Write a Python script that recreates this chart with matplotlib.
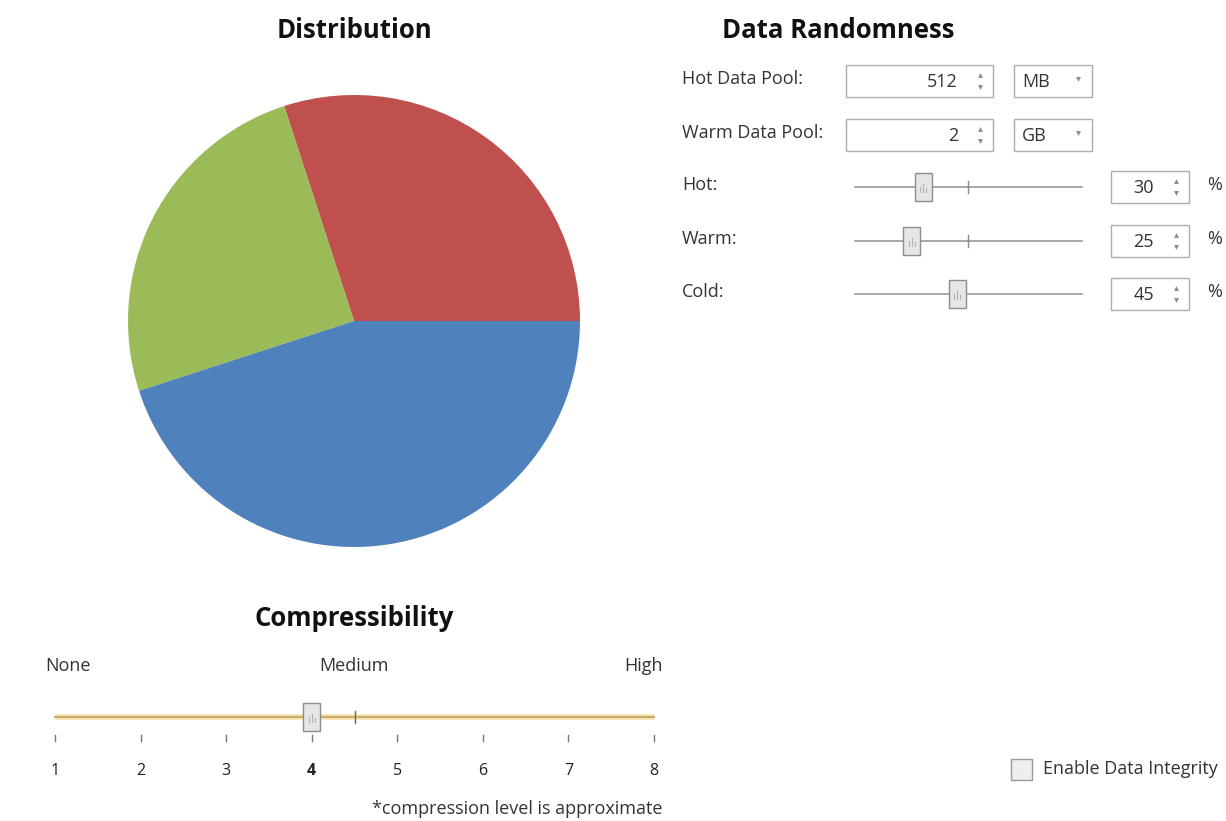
import matplotlib.pyplot as plt
from matplotlib.patches import Rectangle

plt.rcParams['font.family'] = ['Open Sans', 'DejaVu Sans']

# data
categories = ['Hot', 'Warm', 'Cold']
shares = [30, 25, 45]
pie_colors = ['#C0504D', '#9BBB59', '#4F81BD']

pool_labels = ['Hot Data Pool:', 'Warm Data Pool:']
pool_values = ['512', '2']
pool_units = ['MB', 'GB']

compress_levels = [1, 2, 3, 4, 5, 6, 7, 8]
compress_value = 4
compress_names = ['None', 'Medium', 'High']

W, H = 1226, 821
fig = plt.figure(figsize=(W / 100, H / 100), dpi=100)
fig.patch.set_facecolor('white')

# pie chart, centre (354,321) radius 226 px
cx, cy, r = 354, 321, 226
pax = fig.add_axes([(cx - r) / W, (H - cy - r) / H, 2 * r / W, 2 * r / H])
pax.pie(shares, colors=pie_colors, startangle=0, counterclock=True,
        wedgeprops=dict(linewidth=0))
pax.set_xlim(-1, 1)
pax.set_ylim(-1, 1)
pax.set_aspect('equal')
pax.axis('off')

# overlay in pixel coordinates for the rest of the panel
ui = fig.add_axes([0, 0, 1, 1], zorder=-1)
ui.set_xlim(0, W)
ui.set_ylim(H, 0)
ui.axis('off')

txt = '#333333'
edge = '#ABADB3'
fs = 13

def title(x, y, s):
    ui.text(x, y, s, ha='center', va='center', fontsize=18.5, fontweight='bold', color='#111111')

title(354, 30, 'Distribution')
title(838, 30, 'Data Randomness')
title(354, 619, 'Compressibility')

def spin_arrows(x, y):
    ui.plot(x, y - 6, marker='^', ms=3.5, color='#8A8A8A', mec='none')
    ui.plot(x, y + 6, marker='v', ms=3.5, color='#8A8A8A', mec='none')

def combo(x0, x1, y, s):
    ui.add_patch(Rectangle((x0, y - 16), x1 - x0, 32, fc='white', ec=edge, lw=1))
    ui.text(x0 + 8, y + 1, s, ha='left', va='center', fontsize=fs, color=txt)
    ui.plot(x1 - 14, y - 2, marker='v', ms=3.5, color='#8A8A8A', mec='none')

def spinbox(x0, x1, y, s):
    ui.add_patch(Rectangle((x0, y - 16), x1 - x0, 32, fc='white', ec=edge, lw=1))
    ui.text(x1 - 35, y + 1, s, ha='right', va='center', fontsize=fs, color=txt)
    spin_arrows(x1 - 13, y)

# pool rows
pool_y = [81, 135]
for lab, val, unit, y in zip(pool_labels, pool_values, pool_units, pool_y):
    ui.text(682, y - 2, lab, ha='left', va='center', fontsize=fs, color=txt)
    spinbox(846, 993, y, val)
    combo(1014, 1092, y, unit)

def thumb(x, y):
    ui.add_patch(Rectangle((x - 8.5, y - 14), 17, 28, fc='#E6E6E6', ec='#8C8C8C', lw=1, zorder=5))
    for dx, h in zip([-3, 0, 3], [5, 8, 4]):
        ui.plot([x + dx, x + dx], [y + 5 - h, y + 5], color='#B0B0B0', lw=0.8, zorder=6)

# distribution sliders
tx0, tx1 = 855, 1082
row_y = [187, 241, 294]
for cat, val, y in zip(categories, shares, row_y):
    ui.text(682, y - 2, cat + ':', ha='left', va='center', fontsize=fs, color=txt)
    ui.plot([tx0, tx1], [y, y], color='#9A9A9A', lw=1.2)
    if cat != 'Cold':
        ui.plot([968, 968], [y - 6, y + 6], color='#8A8A8A', lw=1)
    thumb(tx0 + val / 100 * (tx1 - tx0), y)
    ui.add_patch(Rectangle((1111, y - 16), 78, 32, fc='white', ec=edge, lw=1))
    ui.text(1154, y + 1, str(val), ha='right', va='center', fontsize=fs, color=txt)
    spin_arrows(1176, y)
    ui.text(1207, y - 2, '%', ha='left', va='center', fontsize=fs, color=txt)

# compressibility slider
cx0, cx1, sy = 55, 654, 717
def cpos(v):
    return cx0 + (v - compress_levels[0]) / (compress_levels[-1] - compress_levels[0]) * (cx1 - cx0)

ui.text(45, 666, compress_names[0], ha='left', va='center', fontsize=fs, color=txt)
ui.text(354, 666, compress_names[1], ha='center', va='center', fontsize=fs, color=txt)
ui.text(663, 666, compress_names[2], ha='right', va='center', fontsize=fs, color=txt)
ui.plot([cx0, cx1], [sy, sy], color='#FBE3A8', lw=4, solid_capstyle='butt')
ui.plot([cx0, cx1], [sy, sy], color='#C9AD76', lw=1.5)
ui.plot([355, 355], [sy - 6, sy + 6], color='#666666', lw=1)
thumb(cpos(compress_value), sy)
for lv in compress_levels:
    x = cpos(lv)
    ui.plot([x, x], [735, 741], color='#777777', lw=1)
    ui.text(x, 771, str(lv), ha='center', va='center', fontsize=11.5, color='#222222',
            fontweight='bold' if lv == compress_value else 'normal')
ui.text(663, 809, '*compression level is approximate', ha='right', va='center', fontsize=fs, color=txt)

# checkbox
ui.add_patch(Rectangle((1011, 759), 21, 21, fc='#EEEEEE', ec='#9A9A9A', lw=1))
ui.text(1043, 769, 'Enable Data Integrity', ha='left', va='center', fontsize=fs, color=txt)

fig.savefig('out.png', dpi=100, facecolor='white')
